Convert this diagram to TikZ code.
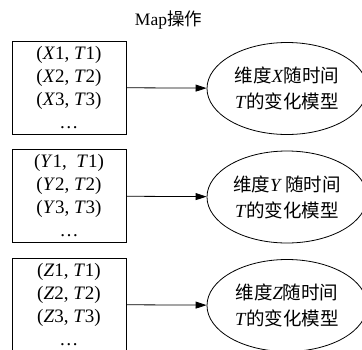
\documentclass[tikz,border=0pt]{standalone}
\usepackage{fontspec}
\setmainfont{Liberation Serif}
\newfontfamily\cjk{Noto Sans CJK SC}
\usetikzlibrary{shapes.geometric,arrows.meta}
\tikzset{
  databox/.style={draw, line width=0.8pt, minimum width=114pt, minimum height=93pt, align=center,
    inner sep=0pt, font=\fontsize{19}{23}\selectfont},
  modelnode/.style={draw, ellipse, line width=0.8pt, minimum width=160pt, minimum height=92pt, align=center,
    inner sep=0pt, font=\fontsize{18.5}{26}\selectfont},
  flow/.style={line width=0.8pt, -{Triangle[length=11pt,width=7pt]}},
  titletext/.style={font=\fontsize{17.5}{20}\selectfont}
}
\begin{document}
\begin{tikzpicture}[x=1pt,y=-1pt]
\useasboundingbox (0,0) rectangle (362,349);
\clip (0,0) rectangle (362,349);
\node[titletext] (title) at (168.5,20) {Map{\cjk 操作}};
% row 1
\node[databox] (bx) at (69,87.5) {(\textit{X}1, \textit{T}1)\\(\textit{X}2, \textit{T}2)\\(\textit{X}3, \textit{T}3)\\\dots};
\node[modelnode] (mx) at (287,88.5) {{\cjk 维度}\textit{X}{\cjk 随时间}\\\textit{T}{\cjk 的变化模型}};
\draw[flow] (bx) -- (mx);
% row 2
\node[databox] (by) at (69,196) {(\textit{Y}1,~ \textit{T}1)\\(\textit{Y}2, \textit{T}2)\\(\textit{Y}3, \textit{T}3)\\\dots};
\node[modelnode] (my) at (287,197) {{\cjk 维度}\textit{Y}\,{\cjk 随时间}\\\textit{T}{\cjk 的变化模型}};
\draw[flow] (by) -- (my);
% row 3
\node[databox] (bz) at (69,304.5) {(\textit{Z}1, \textit{T}1)\\(\textit{Z}2, \textit{T}2)\\(\textit{Z}3, \textit{T}3)\\\dots};
\node[modelnode] (mz) at (287,305.5) {{\cjk 维度}\textit{Z}{\cjk 随时间}\\\textit{T}{\cjk 的变化模型}};
\draw[flow] (bz) -- (mz);
\end{tikzpicture}
\end{document}
